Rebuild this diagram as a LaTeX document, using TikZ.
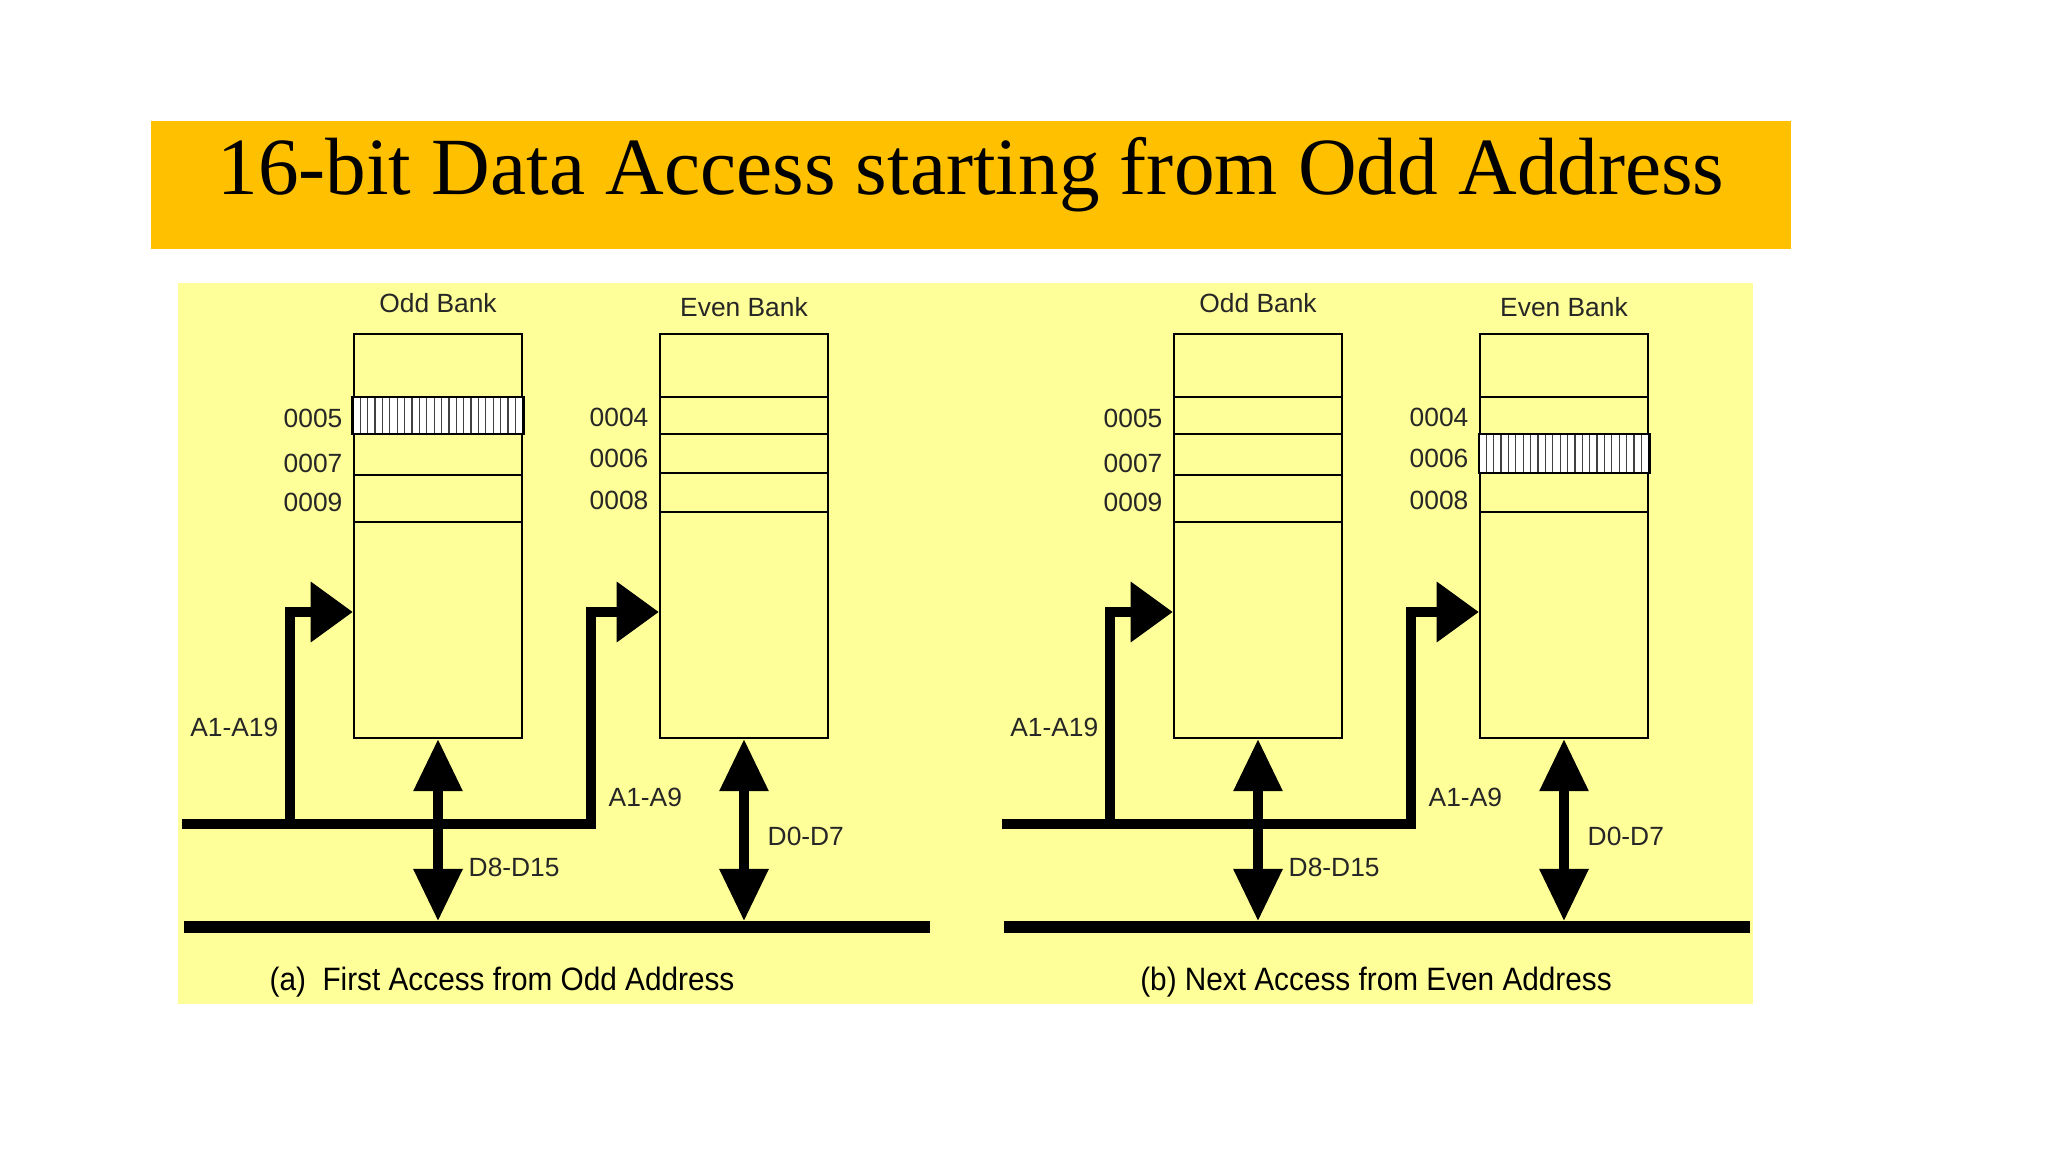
\documentclass[tikz,border=0pt]{standalone}
\usepackage{fontspec}
\setmainfont{Liberation Serif}
\newfontfamily\labelfont{Liberation Sans}
\newfontfamily\capfont[FakeStretch=0.92]{Liberation Sans}
\usetikzlibrary{positioning}
\usetikzlibrary{arrows.meta}
\definecolor{banner}{HTML}{FFC000}
\definecolor{panel}{HTML}{FFFF99}
\tikzset{bank/.style = {draw, rectangle, inner sep = 0, minimum width = 1.68cm, minimum height = 4.04cm, line width = 0.6pt}}
\tikzset{rowline/.style = {line width = 0.6pt}}
\tikzset{hatch/.style = {line width = 0.35pt, black!75}}
\tikzset{addrline/.style = {line width = 2.9pt, -{Triangle[length = 12pt, width = 16.5pt]}}}
\tikzset{datalink/.style = {line width = 2.6pt, {Triangle[length = 14.8pt, width = 13.4pt]}-{Triangle[length = 14.8pt, width = 13.4pt]}}}
\tikzset{buswire/.style = {line width = 3.3pt}}
\tikzset{lbl/.style = {inner sep = 0, font = \labelfont\fontsize{7.5}{9}\selectfont, text = black!85}}

\begin{document}
\begin{tikzpicture}[x = 0.01cm, y = -0.01cm]
    \useasboundingbox (0,0) rectangle (2048,1152);
    \fill[banner] (151,121) rectangle (1791,249);
    \node[anchor = base, inner sep = 0, font = \fontsize{23.1}{27}\selectfont] (ttl) at (971,195) {16-bit Data Access starting from Odd Address};
    \fill[panel] (178,283) rectangle (1753,1004);
    \foreach \p/\dx/\hbank/\htop/\hbtm/\capx/\captext in {a/0/odd/397/434/502/{(a)\ \ First Access from Odd Address}, b/820/even/434/473/556/{(b) Next Access from Even Address}} {
    \begin{scope}[shift = {(\dx,0)}]
        \node[bank] (odd\p) at (438,536) {};
        \node[bank] (even\p) at (744,536) {};
        \node[lbl, above = 5.5pt of odd\p] (oddname\p) {Odd Bank};
        \node[lbl, above = 4.5pt of even\p] (evenname\p) {Even Bank};
        % accessed word
        \path (\hbank\p.west |- 0,\htop) coordinate (hA) (\hbank\p.east |- 0,\hbtm) coordinate (hB);
        \fill[white] (hA) rectangle (hB);
        \foreach \k in {1,...,22} {
            \draw[hatch] ([xshift = \k*2.1pt]hA) -- ++(0,{\hbtm-\htop});
        }
        \draw[line width = 0.8pt] (hA) rectangle (hB);
        \foreach \r in {397,434,475,522} {
            \draw[rowline] (odd\p.west |- 0,\r) -- (odd\p.east |- 0,\r);
        }
        \foreach \r in {397,434,473,512} {
            \draw[rowline] (even\p.west |- 0,\r) -- (even\p.east |- 0,\r);
        }
        \foreach \t/\y in {0005/418, 0007/463, 0009/502} {
            \node[lbl, left = 2.8pt] (n\t\p) at (odd\p.west |- 0,\y) {\t};
        }
        \foreach \t/\y in {0004/417, 0006/458, 0008/500} {
            \node[lbl, left = 2.8pt] (n\t\p) at (even\p.west |- 0,\y) {\t};
        }
        % address bus
        \coordinate (aL\p) at (182,824);
        \coordinate (aT\p) at (290,824);
        \coordinate (aR\p) at (591,824);
        \draw[addrline] (aL\p) -- (aR\p) |- (even\p.west |- 0,612);
        \draw[addrline] (aT\p) |- (odd\p.west |- 0,612);
        % data bus
        \coordinate (dL\p) at (184,927);
        \coordinate (dR\p) at (930,927);
        \draw[buswire] (dL\p) -- (dR\p);
        \draw[datalink] (odd\p.south) -- (odd\p.south |- 0,921);
        \draw[datalink] (even\p.south) -- (even\p.south |- 0,921);
        \node[lbl, anchor = east] (lA19\p) at (279,727) {A1-A19};
        \node[lbl, anchor = west] (lA9\p) at (608,797) {A1-A9};
        \node[lbl, anchor = west] (lD15\p) at (468,867) {D8-D15};
        \node[lbl, anchor = west] (lD7\p) at (767,836) {D0-D7};
        \node[inner sep = 0, font = \capfont\fontsize{9.2}{11}\selectfont] (capt\p) at (\capx,982) {\captext};
    \end{scope}
    }
\end{tikzpicture}
\end{document}
